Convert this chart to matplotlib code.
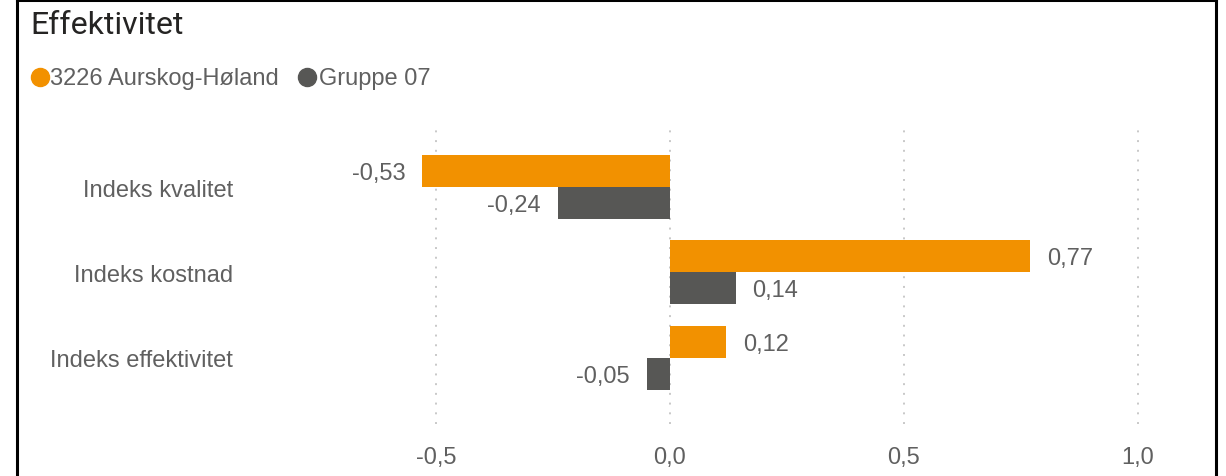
import numpy as np
import matplotlib.pyplot as plt
from matplotlib.lines import Line2D

categories = ['Indeks kvalitet', 'Indeks kostnad', 'Indeks effektivitet']
kommune = [-0.53, 0.77, 0.12]
gruppe = [-0.24, 0.14, -0.05]
series_names = ['3226 Aurskog-Høland', 'Gruppe 07']
xticks = [-0.5, 0.0, 0.5, 1.0]

orange = '#F29100'
grey = '#575755'
txt = '#606060'

plt.rcParams['font.family'] = ['Liberation Sans', 'DejaVu Sans']

W, H = 1226, 477
fig = plt.figure(figsize=(W / 100, H / 100), dpi=100)

# axes placed in pixel terms
ax_l, ax_r, ax_t, ax_b = 300, 1190, 128, 425
ax = fig.add_axes([ax_l / W, 1 - ax_b / H, (ax_r - ax_l) / W, (ax_b - ax_t) / H])

y = np.arange(len(categories))
h = 0.376
ax.barh(y - h / 2, kommune, height=h, color=orange, zorder=3)
ax.barh(y + h / 2, gruppe, height=h, color=grey, zorder=3)

# value labels
def lab(v):
    return f'{v:.2f}'.replace('.', ',')

for yy, v in zip(y - h / 2, kommune):
    ax.annotate(lab(v), (v, yy), xytext=(12 if v >= 0 else -12, -1.5), textcoords='offset points',
                ha='left' if v >= 0 else 'right', va='center', fontsize=17, color=txt)
for yy, v in zip(y + h / 2, gruppe):
    ax.annotate(lab(v), (v, yy), xytext=(12 if v >= 0 else -12, -1.5), textcoords='offset points',
                ha='left' if v >= 0 else 'right', va='center', fontsize=17, color=txt)

ax.set_xlim((ax_l - 670) / 468, (ax_r - 670) / 468)
ax.set_ylim(2.78, -0.706)
ax.set_xticks(xticks)
ax.set_xticklabels([f'{t:.1f}'.replace('.', ',') for t in xticks])
ax.set_yticks(y)
ax.set_yticklabels(categories)
ax.tick_params(axis='x', length=0, pad=15.5, labelsize=17, labelcolor=txt)
ax.tick_params(axis='y', length=0, pad=48, labelsize=17, labelcolor=txt)
for t in ax.get_yticklabels():
    t.set_y(t.get_position()[1])
ax.grid(axis='x', color='#c8c8c8', linestyle=(0, (1, 4)), linewidth=1.4, zorder=0)
ax.grid(axis='y', visible=False)
for s in ax.spines.values():
    s.set_visible(False)

# title and legend
fig.text(30 / W, 1 - 25 / H, 'Effektivitet', fontsize=23, color='#252423',
         family=['Roboto', 'DejaVu Sans'], va='center', ha='left')
fig.add_artist(Line2D([40 / W], [1 - 78 / H], marker='o', markersize=13, color=orange,
                      transform=fig.transFigure))
fig.text(50 / W, 1 - 79.5 / H, series_names[0], fontsize=17, color=txt, va='center', ha='left')
fig.add_artist(Line2D([307 / W], [1 - 78 / H], marker='o', markersize=13, color=grey,
                      transform=fig.transFigure))
fig.text(319 / W, 1 - 79.5 / H, series_names[1], fontsize=17, color=txt, va='center', ha='left')

# black frame
lw = 2.2
fig.add_artist(Line2D([17 / W, 17 / W], [0, 1], color='black', lw=lw, transform=fig.transFigure))
fig.add_artist(Line2D([1216 / W, 1216 / W], [0, 1], color='black', lw=lw, transform=fig.transFigure))
fig.add_artist(Line2D([17 / W, 1216 / W], [1 - 1 / H, 1 - 1 / H], color='black', lw=lw,
                      transform=fig.transFigure))

plt.savefig('out.png', dpi=100)
